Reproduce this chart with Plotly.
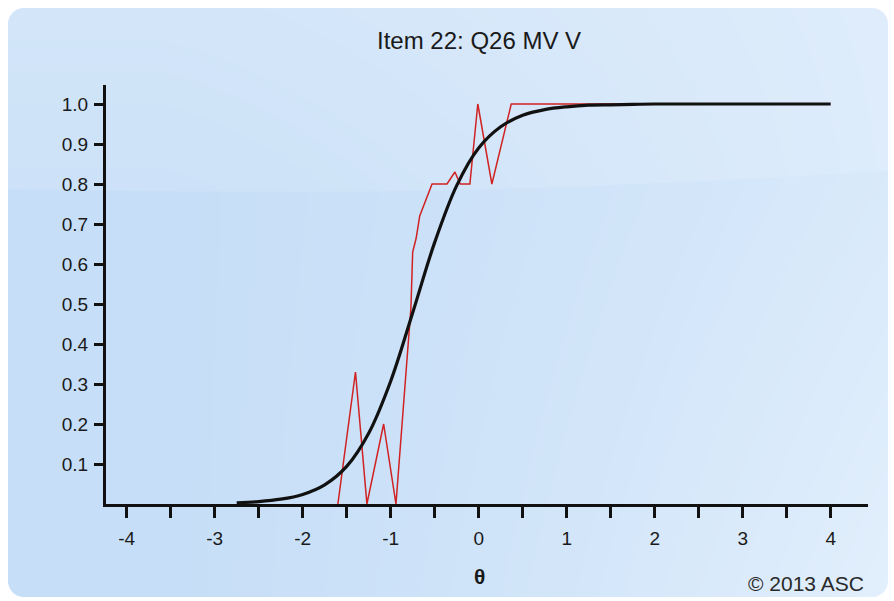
import base64
import struct
import zlib

import numpy as np
import plotly.graph_objects as go

# Fitted item response function (read at 0.25 steps of theta)
theta_irf = [-2.75, -2.5, -2.25, -2.0, -1.75, -1.5, -1.25, -1.0, -0.75, -0.5, -0.25,
             0.0, 0.25, 0.5, 0.75, 1.0, 1.25, 1.5, 1.75, 2.0, 2.5, 3.0, 3.5, 4.0]
p_irf = [0.003, 0.006, 0.012, 0.024, 0.048, 0.094, 0.177, 0.307, 0.478, 0.654, 0.796,
         0.890, 0.943, 0.972, 0.986, 0.993, 0.997, 0.998, 0.999, 1.0, 1.0, 1.0, 1.0, 1.0]

# Observed proportions by ability group
theta_obs = [-1.60, -1.40, -1.27, -1.08, -0.94, -0.77, -0.75, -0.71, -0.67, -0.53,
             -0.36, -0.27, -0.21, -0.10, -0.01, 0.15, 0.37, 2.21]
p_obs = [0.0, 0.33, 0.0, 0.20, 0.0, 0.49, 0.63, 0.665, 0.72, 0.80,
         0.80, 0.83, 0.80, 0.80, 1.0, 0.80, 1.0, 1.0]

x_ticks = [v / 2 for v in range(-8, 9)]
x_text = [str(int(v)) if v == int(v) else "" for v in x_ticks]
y_ticks = [0.1, 0.2, 0.3, 0.4, 0.5, 0.6, 0.7, 0.8, 0.9, 1.0]
y_text = ["0.1", "0.2", "0.3", "0.4", "0.5", "0.6", "0.7", "0.8", "0.9", "1.0"]

W, H = 894, 601
ML, MR, MT, MB = 106, 26, 85, 97
PW, PH = W - ML - MR, H - MT - MB

# panel box in page pixels
BX0, BY0, BX1, BY1, BR = 8, 8, 888, 597, 16


def px(x):
    return (x - ML) / PW


def py(y):
    return (H - MB - y) / PH


def panel_png():
    """Rounded light-blue panel with a glossy upper band, as a PNG data URI."""
    w, h = BX1 - BX0, BY1 - BY0
    yy, xx = np.mgrid[0:h, 0:w].astype(float)
    xx += 0.5
    yy += 0.5
    # brightening toward the lower right
    t = np.clip((xx - 150) / (w - 150), 0, 1) ** 1.3
    t = t * (0.55 + 0.45 * yy / h)
    c0 = np.array([198, 222, 247], float)
    c1 = np.array([226, 239, 252], float)
    rgb = c0[None, None, :] * (1 - t[..., None]) + c1[None, None, :] * t[..., None]
    # gloss: lighter band across the top, ending on a soft curve
    edge = 182 - 18 * (xx / w) + 10 * np.sin(np.pi * xx / w)
    g = np.clip((edge - yy) / 2.0, 0, 1)
    fade = 0.22 - 0.10 * np.clip(yy / 180, 0, 1)
    rgb = rgb + (255 - rgb) * (g * fade)[..., None]
    # rounded corners
    cx = np.clip(xx, BR, w - BR)
    cy = np.clip(yy, BR, h - BR)
    d = np.sqrt((xx - cx) ** 2 + (yy - cy) ** 2)
    alpha = np.clip(BR - d + 0.5, 0, 1) * 255
    img = np.dstack([rgb, alpha]).round().clip(0, 255).astype(np.uint8)
    raw = b"".join(b"\x00" + img[r].tobytes() for r in range(h))

    def chunk(tag, data):
        return (struct.pack(">I", len(data)) + tag + data
                + struct.pack(">I", zlib.crc32(tag + data) & 0xFFFFFFFF))

    png = (b"\x89PNG\r\n\x1a\n"
           + chunk(b"IHDR", struct.pack(">IIBBBBB", w, h, 8, 6, 0, 0, 0))
           + chunk(b"IDAT", zlib.compress(raw, 9))
           + chunk(b"IEND", b""))
    return "data:image/png;base64," + base64.b64encode(png).decode()


FONT = "Arial, Liberation Sans, sans-serif"
INK = "#1a1a1a"

fig = go.Figure()
fig.add_trace(go.Scatter(x=theta_obs, y=p_obs, mode="lines",
                         line=dict(color="rgb(208,34,34)", width=1.5),
                         hoverinfo="skip", showlegend=False))
fig.add_trace(go.Scatter(x=theta_irf, y=p_irf, mode="lines",
                         line=dict(color="#111111", width=3.2, shape="spline"),
                         hoverinfo="skip", showlegend=False))


def label(text, x, y, size, color=INK):
    return dict(text=text, xref="paper", yref="paper", x=px(x), y=py(y),
                xanchor="center", yanchor="middle", showarrow=False,
                font=dict(size=size, color=color, family=FONT))


fig.update_layout(
    width=W, height=H,
    margin=dict(l=ML, r=MR, t=MT, b=MB),
    paper_bgcolor="white", plot_bgcolor="rgba(0,0,0,0)",
    images=[dict(source=panel_png(), xref="paper", yref="paper",
                 x=px(BX0), y=py(BY0), sizex=(BX1 - BX0) / PW, sizey=(BY1 - BY0) / PH,
                 sizing="stretch", xanchor="left", yanchor="top", layer="below")],
    font=dict(family=FONT, size=19, color=INK),
    xaxis=dict(range=[-4.235, 4.424], tickvals=x_ticks, ticktext=x_text,
               ticks="outside", ticklen=11, tickwidth=2.8, tickcolor="#111111",
               showline=True, linewidth=3, linecolor="#111111",
               showgrid=False, zeroline=False, fixedrange=True,
               ticklabelstandoff=4,
               tickfont=dict(size=19, color=INK)),
    yaxis=dict(range=[0, 1.0475], tickvals=y_ticks, ticktext=y_text,
               ticks="outside", ticklen=9, tickwidth=2.8, tickcolor="#111111",
               showline=True, linewidth=3, linecolor="#111111",
               showgrid=False, zeroline=False, fixedrange=True,
               ticklabelstandoff=2,
               tickfont=dict(size=19, color=INK)),
    annotations=[
        label("Item 22: Q26 MV V", 479, 40, 24),
        label("<b>θ</b>", 479, 576, 21),
        label("© 2013 ASC", 806, 583, 21, "#2a2a2a"),
    ],
)

fig.write_html("out.html")
